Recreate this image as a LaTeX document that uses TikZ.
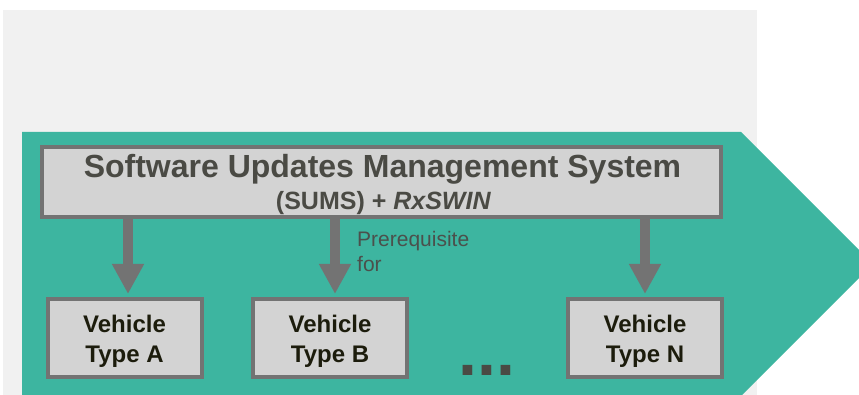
\documentclass[tikz,border=0pt]{standalone}
\usepackage{fontspec}
\setmainfont{Liberation Sans}
\usetikzlibrary{arrows.meta}
\definecolor{bggray}{HTML}{F1F1F1}
\definecolor{chevron}{HTML}{3DB5A0}
\definecolor{boxfill}{HTML}{D3D3D3}
\definecolor{boxline}{HTML}{737373}
\definecolor{titletext}{HTML}{4A4A44}
\definecolor{vtextcol}{HTML}{1C1C0C}
\definecolor{notetext}{HTML}{4B504C}
\begin{document}
\begin{tikzpicture}[x=1pt,y=-1pt,
    vbox/.style={draw=boxline,fill=boxfill,line width=4pt,minimum width=154pt,minimum height=78pt,inner sep=0pt},
    vtext/.style={anchor=base,align=center,text=vtextcol,font=\fontsize{24}{30}\selectfont\bfseries,inner sep=0pt},
    conn/.style={draw=boxline,line width=10pt,-{Triangle[width=30pt,length=30pt]},shorten >=3pt}]
  \useasboundingbox (0,0) rectangle (859,395);
  \clip (0,0) rectangle (859,395);
  % background and chevron
  \fill[bggray] (3,10) rectangle (757,395);
  \fill[chevron] (22,132) -- (741,132) -- (873,264) -- (741,396) -- (22,396) -- cycle;
  % management system box
  \node[draw=boxline,fill=boxfill,line width=4pt,minimum width=679pt,minimum height=70pt,inner sep=0pt] (sums) at (381.5,182) {};
  \node[anchor=base,text=titletext,font=\fontsize{32}{38}\selectfont\bfseries,inner sep=0pt] (sumstitle) at (382.5,178) {Software Updates Management System};
  \node[anchor=base,text=titletext,font=\fontsize{25}{30}\selectfont\bfseries,inner sep=0pt] (sumssub) at (383.5,210) {(SUMS) + \textit{RxSWIN}};
  % vehicle types
  \node[vbox] (typeA) at (124.5,338) {};
  \node[vbox] (typeB) at (330,338) {};
  \node[vbox] (typeN) at (645,338) {};
  \node[vtext] (typeAtxt) at (124.5,362) {Vehicle\\Type A};
  \node[vtext] (typeBtxt) at (330,362) {Vehicle\\Type B};
  \node[vtext] (typeNtxt) at (645,362) {Vehicle\\Type N};
  % arrows
  \draw[conn] ([xshift=3.5pt]typeA.north |- sums.south) -- ([xshift=3.5pt]typeA.north);
  \draw[conn] ([xshift=5pt]typeB.north |- sums.south) -- ([xshift=5pt]typeB.north);
  \draw[conn] (typeN.north |- sums.south) -- (typeN.north);
  \node[anchor=base west,align=left,text=notetext,font=\fontsize{21}{25}\selectfont,inner sep=0pt] (prereq) at (357,272) {Prerequisite\\for};
  \node[anchor=base west,text=titletext,font=\fontsize{68}{70}\selectfont\bfseries,inner sep=0pt] (dots) at (458,375) {...};
\end{tikzpicture}
\end{document}
